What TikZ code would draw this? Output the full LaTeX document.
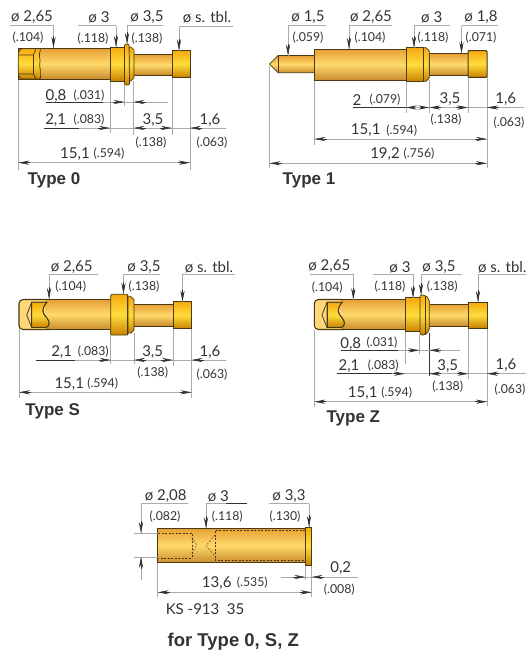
\documentclass[tikz,border=0pt]{standalone}
\usepackage{fontspec}
\setmainfont{Lato}
\newfontfamily\boldhead[BoldFont=Liberation Sans Bold]{Liberation Sans}
\usetikzlibrary{arrows.meta}
\definecolor{txt}{HTML}{333333}
\definecolor{gl}{HTML}{ABABAB}
\definecolor{ol}{HTML}{4A3A14}
\definecolor{btop}{HTML}{E6A035}
\definecolor{bmid}{HTML}{FFD96A}
\definecolor{bbot}{HTML}{C98C2E}
\definecolor{ctop}{HTML}{F5A90F}
\definecolor{cmid}{HTML}{FFDD3C}
\definecolor{cbot}{HTML}{C98100}
\definecolor{pale}{HTML}{FFD77A}
\tikzset{
  bodyshape/.style={draw=ol,line width=.7pt,top color=btop,bottom color=bbot,middle color=bmid},
  collar/.style={draw=ol,line width=.7pt,top color=ctop,bottom color=cbot,middle color=cmid},
  extline/.style={draw=gl,line width=.7pt},
  blackline/.style={draw=txt,line width=.8pt},
  tipline/.style={draw=txt,line width=.6pt,-{Stealth[length=11pt,width=4.2pt]}},
  dashline/.style={draw=ol,line width=.4pt,dash pattern=on 2pt off 1.5pt},
  biglab/.style={text=txt,inner sep=0pt,yshift=-1pt,font=\fontsize{15}{17}\selectfont},
  smalllab/.style={text=txt,inner sep=0pt,yshift=-1.2pt,font=\fontsize{12.3}{14}\selectfont},
  titlelab/.style={text=txt,inner sep=0pt,yshift=-1.6pt,font=\boldhead\bfseries\fontsize{17}{19}\selectfont},
}
\newcount\labn
\newcommand{\Lbig}[3]{\global\advance\labn by 1 \node[biglab] (b\the\labn) at (#1,#2) {#3};}
\newcommand{\Lsmall}[3]{\global\advance\labn by 1 \node[smalllab] (s\the\labn) at (#1,#2) {#3};}
\newcommand{\Ltitle}[3]{\global\advance\labn by 1 \node[titlelab] (t\the\labn) at (#1,#2) {#3};}
\newcommand{\TipR}[2]{\draw[tipline] (#1-12,#2) -- (#1,#2);}
\newcommand{\TipL}[2]{\draw[tipline] (#1+12,#2) -- (#1,#2);}
\newcommand{\Ext}[3]{\draw[extline] (#1,#2) -- (#1,#3);}
\newcommand{\Hl}[3]{\draw[extline] (#1,#3) -- (#2,#3);}
\newcommand{\Bl}[3]{\draw[blackline] (#1,#3) -- (#2,#3);}
\newcommand{\Dn}[4]{\Hl{#1}{#2}{#3}\draw[extline] (#1,#3) -- (#1,#4);\draw[tipline] (#1,#4-12) -- (#1,#4);}
% open socket head drawn for a body beginning at x=19, upper edge y=299.5
\newcommand{\SockHead}{%
  \fill[pale,rounded corners=4pt] (47,299.5) -- (19,299.5) -- (19,329.5) -- (47,329.5) -- (49,318) -- (44,310) -- cycle;
  \draw[draw=ol,line width=1.1pt,rounded corners=4pt] (47,299.5) -- (19,299.5) -- (19,329.5) -- (49,329.5);
  \path[collar] (31.7,302.3) -- (47,302.3) .. controls (41,309) and (42,313) .. (47,318) .. controls (50,322) and (50,326) .. (46,327.5) -- (31.7,327.5) -- cycle;
  \draw[draw=ol,line width=.8pt] (47,302.3) -- (31.7,302.3) -- (26.7,315) -- (31.7,327.5) -- (46,327.5);
  \draw[draw=ol,line width=.8pt] (31.7,302.3) -- (31.7,327.5);
  \draw[draw=ol,line width=.9pt] (47,302.3) .. controls (41,309) and (42,313) .. (47,318) .. controls (50,322) and (50,326) .. (46,327.5);
}
\begin{document}
\begin{tikzpicture}[x=1pt,y=-1pt]
\useasboundingbox (0,0) rectangle (526,651);
\fill[white] (0,0) rectangle (526,651);

%%% TYPE 0
\Ext{18.3}{79}{170}\Ext{110}{81}{133}\Ext{124.5}{85}{106}\Ext{133.5}{81}{135}\Ext{172}{78}{135}\Ext{190}{78}{170}
\path[bodyshape] (18.3,48.5) rectangle (110,79);
\path[collar,rounded corners=2pt] (21,48.5) -- (41,48.5) .. controls (38,56) and (41,60) .. (39,64) .. controls (41,70) and (40,75) .. (41,79) -- (21,79) -- (18.3,76) -- (18.3,51.5) -- cycle;
\draw[draw=ol,line width=.7pt] (18.5,55) -- (33.5,55) -- (36,48.5);
\draw[draw=ol,line width=.7pt] (18.5,74) -- (33.5,74) -- (36,79);
\draw[draw=ol,line width=.7pt] (33.5,55) -- (33.5,74);
\path[bodyshape] (133,54.5) rectangle (172,75);
\path[collar] (110,47) rectangle (125,81);
\path[collar] (129,47) -- (131,47) -- (134,50) -- (134,78) -- (131,81) -- (129,81) -- cycle;
\path[collar,rounded corners=1pt] (124.5,44.5) -- (129,44) -- (129.5,85) -- (124.5,85) -- cycle;
\path[collar,line width=1pt] (172,50.5) rectangle (190,77.5);
\Dn{53.5}{10}{25.5}{48}\Dn{116}{116}{25.5}{47}\Hl{78}{116}{25.5}
\Dn{127}{163}{25.5}{44}\Dn{179}{233}{26}{50.5}
\Lbig{32}{16}{ø 2,65}\Lsmall{28}{36.5}{(.104)}
\Lbig{99}{16}{ø 3}\Lsmall{93}{37}{(.118)}
\Lbig{147}{16}{ø 3,5}\Lsmall{147}{37}{(.138)}
\Lbig{207}{16}{ø s. tbl.}
\Hl{46}{168}{102}\Bl{46}{103}{102}\TipR{124.5}{102}\TipL{133.5}{102}
\Lbig{56}{95}{0,8}\Lsmall{89}{94}{(.031)}
\Hl{44}{226}{128}\Bl{44}{79}{128}\TipR{110}{128}\TipL{133.5}{128}\TipR{172}{128}\TipL{190}{128}
\Lbig{55.7}{119}{2,1}\Lsmall{89}{118}{(.083)}
\Lbig{153}{119}{3,5}\Lsmall{151}{141}{(.138)}\Lbig{210}{119}{1,6}\Lsmall{212}{141}{(.063)}
\Hl{18.3}{190}{162.7}\TipL{18.3}{162.7}\TipR{190}{162.7}
\Lbig{75}{153}{15,1}\Lsmall{109}{152}{(.594)}
\Ltitle{54}{179}{Type 0}

%%% TYPE 1
\Ext{269.5}{66}{168}\Ext{314.5}{80}{145}\Ext{406}{81}{113}\Ext{429.3}{80}{113}\Ext{468}{77}{113}\Ext{487}{77}{168}
\path[bodyshape] (314.5,55.5) -- (278,55.5) -- (269.5,64) -- (278,72.7) -- (314.5,72.7) -- cycle;
\draw[draw=ol,line width=.7pt] (278,55.5) -- (278,72.7);
\path[bodyshape] (314.5,49) rectangle (406,80);
\path[bodyshape] (429,53.3) rectangle (468,75.3);
\path[collar] (423,47.7) -- (426,47.7) -- (429.3,51) -- (429.3,78) -- (426,81.3) -- (423,81.3) -- cycle;
\path[collar] (406,47.7) rectangle (423.3,81.3);
\path[collar,line width=1pt,rounded corners=1pt] (468,50.7) rectangle (487,77.3);
\Dn{288}{326}{25.5}{55.5}\Dn{349}{392}{25.5}{49}\Dn{414}{450}{25.5}{47.7}\Dn{461.5}{498}{25.5}{53.3}
\Lbig{308}{16}{ø 1,5}\Lsmall{308}{36}{(.059)}
\Lbig{371}{16}{ø 2,65}\Lsmall{370}{36}{(.104)}
\Lbig{431.7}{16}{ø 3}\Lsmall{433}{36}{(.118)}
\Lbig{481}{16}{ø 1,8}\Lsmall{481}{36}{(.071)}
\Hl{353}{524}{107.5}\Bl{353}{406}{107.5}
\draw[tipline] (414,107.5) -- (406,107.5);\draw[tipline] (421,107.5) -- (429.3,107.5);
\TipL{429.3}{107.5}\TipR{468}{107.5}\TipL{487}{107.5}
\Lbig{357}{99}{2}\Lsmall{385}{98}{(.079)}
\Lbig{450}{98}{3,5}\Lsmall{446}{118}{(.138)}\Lbig{505.7}{98}{1,6}\Lsmall{509}{121}{(.063)}
\Hl{314.5}{487}{139}\TipL{314.5}{139}\TipR{487}{139}
\Lbig{365.7}{129.6}{15,1}\Lsmall{401.7}{129}{(.594)}
\Hl{269.5}{487}{163.3}\TipL{269.5}{163.3}\TipR{487}{163.3}
\Lbig{385}{153}{19,2}\Lsmall{419}{152}{(.756)}
\Ltitle{309}{179}{Type 1}

%%% TYPE S
\Ext{19}{329}{398}\Ext{110.7}{335}{364}\Ext{134}{333}{364}\Ext{173}{329}{366}\Ext{191.6}{329}{398}
\path[bodyshape] (40,299.5) rectangle (110.7,329.5);
\SockHead
\path[bodyshape] (133,304.3) rectangle (173,326);
\path[collar] (127,296.7) -- (131,296.7) -- (134,299.5) -- (134,330) -- (131,333) -- (127,333) -- cycle;
\path[collar,rounded corners=1pt] (110.7,294.3) rectangle (128,335);
\draw[draw=ol,line width=.5pt] (127,294.5) -- (127,335);
\path[collar,line width=.8pt] (173,301.7) rectangle (191.6,328.7);
\Dn{49}{98}{274.3}{299}\Dn{123.5}{160}{274.3}{294}\Dn{182.5}{235}{274.3}{301.7}
\Lbig{71.7}{265.7}{ø 2,65}\Lsmall{70.7}{285.7}{(.104)}
\Lbig{144}{265.7}{ø 3,5}\Lsmall{144}{285.7}{(.138)}
\Lbig{209}{266}{ø s. tbl.}
\Hl{36}{226}{360}\Bl{36}{75}{360}\TipR{110.7}{360}\TipL{134}{360}\TipR{173}{360}\TipL{191.6}{360}
\Lbig{61.7}{351}{2,1}\Lsmall{93.3}{350}{(.083)}
\Lbig{152.7}{351}{3,5}\Lsmall{152.7}{371}{(.138)}\Lbig{210}{351}{1,6}\Lsmall{212}{373}{(.063)}
\Hl{19}{191.6}{392.3}\TipL{19}{392.3}\TipR{191.6}{392.3}
\Lbig{69.3}{383}{15,1}\Lsmall{102.7}{382}{(.594)}
\Ltitle{52.7}{410}{Type S}

%%% TYPE Z
\Ext{314.3}{330}{407}\Ext{405}{332}{364}\Ext{419.5}{335}{354}\Ext{468.5}{328}{379}\Ext{487}{328}{406}
\path[bodyshape] (335,299.5) rectangle (405,329.5);
\begin{scope}[xshift=295.3pt]\SockHead\end{scope}
\path[bodyshape] (429,304.3) rectangle (468.5,326);
\path[collar] (405,297.7) rectangle (420,331.7);
\path[collar,rounded corners=2pt] (420,295) -- (425,295) -- (429.3,299) -- (429.3,331) -- (425,335) -- (420,335) -- cycle;
\draw[draw=ol,line width=.6pt] (425.7,295.5) -- (425.7,334.5);
\path[collar,line width=.8pt] (468.5,302) rectangle (487,328);
\draw[draw=txt,line width=.8pt] (429.3,333) -- (429.3,376);
\Dn{353.3}{310}{274}{299.5}\Dn{413}{373}{274}{297.7}\Dn{421}{462}{274}{295}\Dn{478}{526}{274}{302}
\Lbig{329.3}{265.3}{ø 2,65}\Lsmall{327.3}{286}{(.104)}
\Lbig{400}{266}{ø 3}\Lsmall{390}{285.7}{(.118)}
\Lbig{439}{265.7}{ø 3,5}\Lsmall{442.3}{285.7}{(.138)}
\Lbig{502.3}{266}{ø s. tbl.}
\Hl{341}{460}{350.3}\Bl{341}{398}{350.3}\TipR{419.5}{350.3}\TipL{429.3}{350.3}
\Lbig{350.7}{342.7}{0,8}\Lsmall{382}{341}{(.031)}
\Hl{337}{526}{373.7}\Bl{337}{392}{373.7}\TipR{405}{373.7}\Bl{429.3}{441}{373.7}\TipL{429.3}{373.7}\TipR{468.5}{373.7}\TipL{487}{373.7}
\Lbig{349}{365}{2,1}\Lsmall{383.3}{364}{(.083)}
\Lbig{447.7}{365}{3,5}\Lsmall{447.7}{385.3}{(.138)}\Lbig{506}{364}{1,6}\Lsmall{510}{388}{(.063)}
\Hl{314.3}{487}{401.7}\TipL{314.3}{401.7}\TipR{487}{401.7}
\Lbig{362.7}{392}{15,1}\Lsmall{396.7}{391}{(.594)}
\Ltitle{353.3}{417.3}{Type Z}

%%% KS
\Ext{157.7}{563}{597}\Ext{305.3}{565}{580}\Ext{311.7}{565}{597}
\path[bodyshape] (157.7,528.3) rectangle (305.3,562.7);
\draw[draw=ol,line width=1.2pt] (157.7,528.3) -- (157.7,562.7);
\path[collar] (305.3,527) rectangle (311.7,565.3);
\draw[dashline] (158,532.7) -- (191.7,532.7) -- (191.7,557.7) -- (158,557.7);
\draw[dashline] (191.7,537) -- (196.7,545.2) -- (191.7,553);
\draw[dashline] (305,530) -- (215,530) -- (215,560) -- (305,560);
\draw[dashline] (215,535) -- (206,545.7) -- (215,556);
\Hl{134}{158}{533}\Hl{134}{158}{557}
\Dn{141}{188}{503.5}{533}
\Ext{141}{557}{580}\draw[tipline] (141,569) -- (141,557);
\Dn{206}{247}{503.5}{528.3}\Bl{226}{247}{503.5}
\Dn{309}{269}{503.5}{527}
\Lbig{165.7}{495}{ø 2,08}\Lsmall{165}{515}{(.082)}
\Lbig{218.3}{495}{ø 3}\Lsmall{227.3}{515}{(.118)}
\Lbig{289}{495}{ø 3,3}\Lsmall{285}{515}{(.130)}
\Hl{281}{358}{577}\TipR{305.3}{577}\TipL{311.7}{577}
\Lbig{340.7}{567}{0,2}\Lsmall{339.3}{588}{(.008)}
\Hl{157.7}{311.7}{592.3}\TipL{157.7}{592.3}\TipR{311.7}{592.3}
\Lbig{216.7}{582}{13,6}\Lsmall{252.3}{581}{(.535)}
\Lbig{205}{608}{KS -913\,\,\,35}
\Ltitle{233.3}{640}{\fontsize{18.5}{20}\selectfont for Type 0, S, Z}
\end{tikzpicture}
\end{document}
